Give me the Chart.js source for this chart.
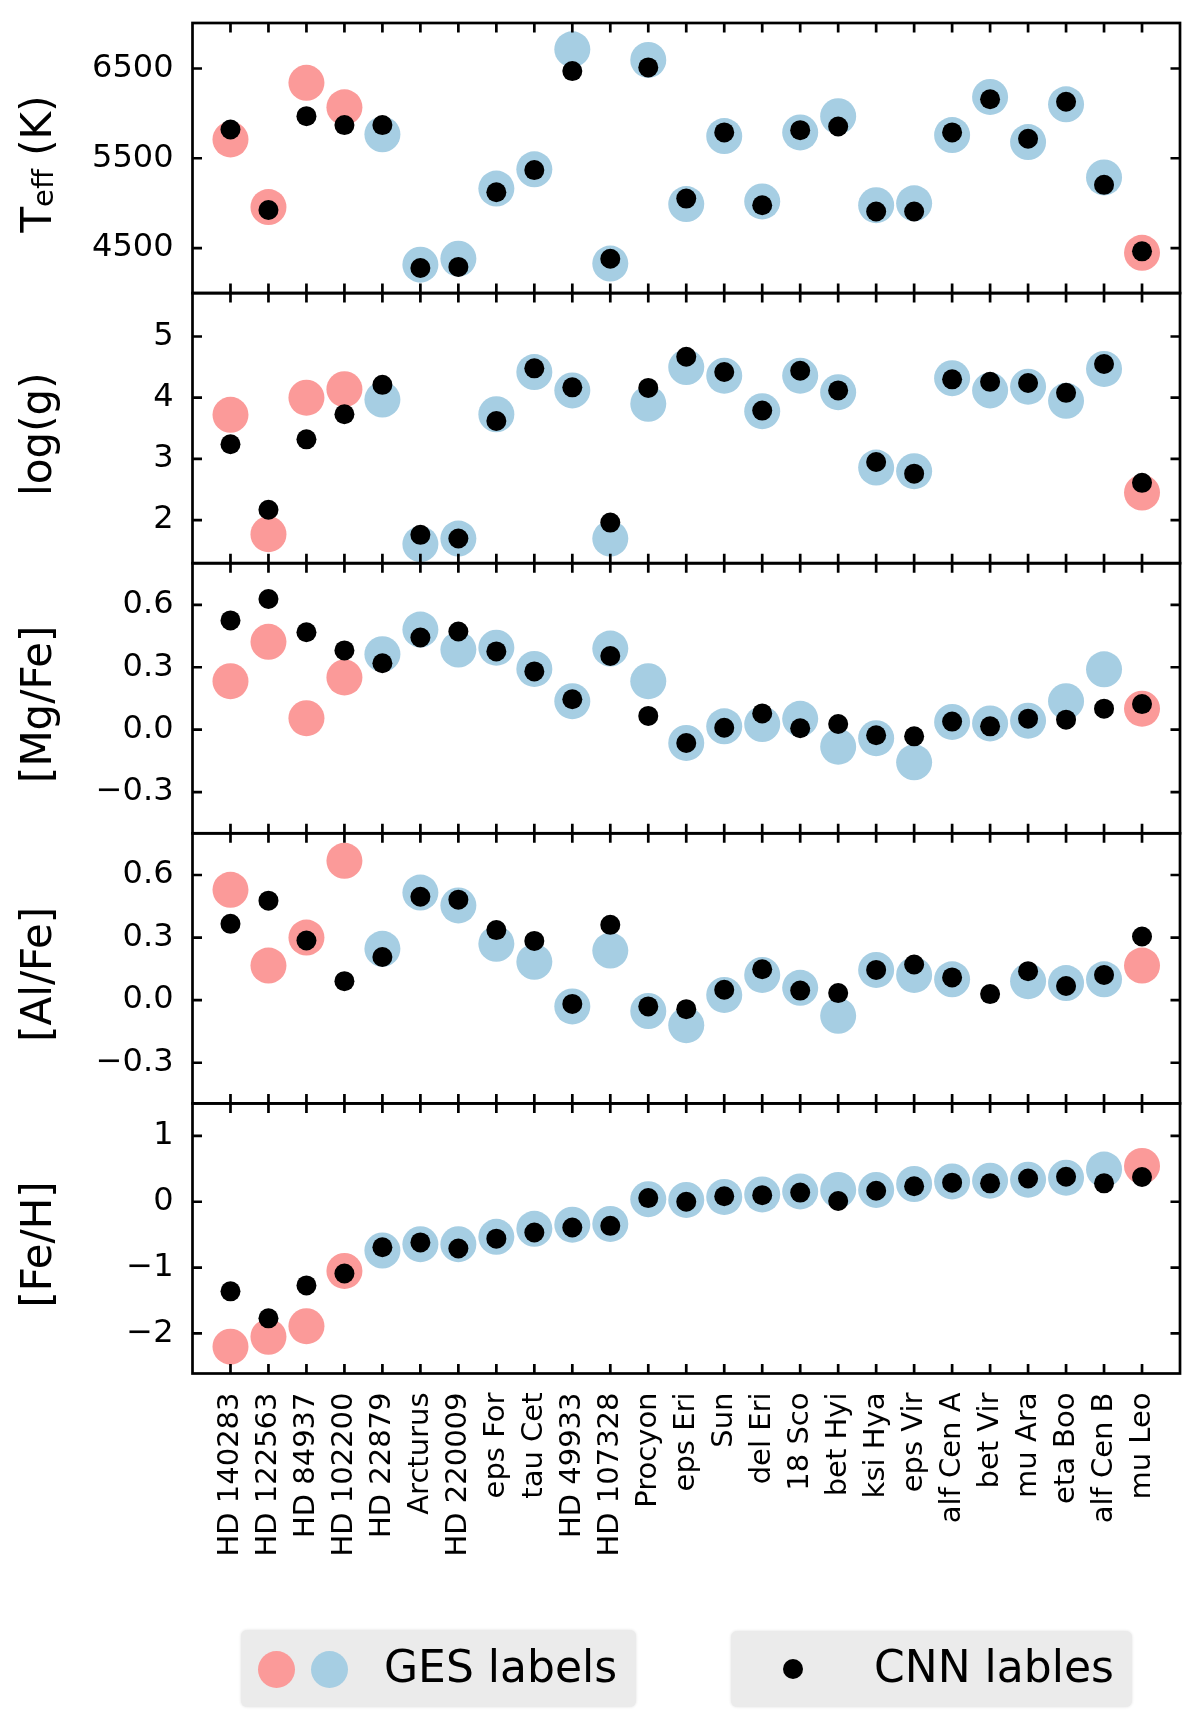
<!DOCTYPE html>
<html>
<head>
<meta charset="utf-8">
<script src="https://cdn.jsdelivr.net/npm/chart.js@4.4.1/dist/chart.umd.min.js"></script>
<style>
  html, body { margin: 0; padding: 0; background: #fff; }
  #wrap { position: relative; width: 1200px; height: 1730px; }
  .legend-box { position: absolute; background: #ebebeb; border-radius: 6px; box-shadow: 0 0 3px rgba(0,0,0,0.12); }
  .legend-box .dot { position: absolute; border-radius: 50%; }
  .legend-box .txt { position: absolute; font-family: "DejaVu Sans"; font-size: 44px; line-height: 44px; white-space: nowrap; color: #000; }
</style>
</head>
<body>
<div id="wrap">
  <canvas id="starsChart" width="1200" height="1730"></canvas>
  <div class="legend-box" style="left:241px; top:1630px; width:395px; height:77px;">
    <span class="dot" style="left:17px; top:21px; width:37px; height:37px; background:#fb9a99;"></span>
    <span class="dot" style="left:70px; top:21px; width:37px; height:37px; background:#a6cee3;"></span>
    <span class="txt" style="left:143px; top:15px;">GES labels</span>
  </div>
  <div class="legend-box" style="left:731px; top:1631px; width:401px; height:76px;">
    <span class="dot" style="left:52px; top:28px; width:20px; height:20px; background:#000;"></span>
    <span class="txt" style="left:143px; top:14px;">CNN lables</span>
  </div>
</div>
<script>
const stars = ['HD 140283', 'HD 122563', 'HD 84937', 'HD 102200', 'HD 22879', 'Arcturus', 'HD 220009',
  'eps For', 'tau Cet', 'HD 49933', 'HD 107328', 'Procyon', 'eps Eri', 'Sun', 'del Eri', '18 Sco',
  'bet Hyi', 'ksi Hya', 'eps Vir', 'alf Cen A', 'bet Vir', 'mu Ara', 'eta Boo', 'alf Cen B', 'mu Leo'];
// stars whose GES labels are drawn in red
const redStars = ['HD 140283', 'HD 122563', 'HD 84937', 'HD 102200', 'mu Leo'];

const teffGes = [5710, 4957, 6340, 6068, 5767, 4315, 4381, 5163, 5377, 6714, 4327, 6595, 4990, 5747, 5019,
  5788, 5969, 4977, 4998, 5759, 6183, 5681, 6101, 5286, 4447];
const teffCnn = [5821, 4924, 5969, 5870, 5870, 4278, 4290, 5121, 5368, 6471, 4381, 6512, 5051, 5788, 4977,
  5813, 5854, 4907, 4907, 5788, 6158, 5718, 6130, 5204, 4463];

const loggGes = [3.72, 1.77, 4.00, 4.14, 3.97, 1.61, 1.70, 3.73, 4.42, 4.12, 1.70, 3.90, 4.50, 4.36, 3.78,
  4.36, 4.09, 2.86, 2.80, 4.32, 4.12, 4.18, 3.95, 4.47, 2.45];
const loggCnn = [3.24, 2.17, 3.32, 3.73, 4.21, 1.76, 1.70, 3.62, 4.48, 4.17, 1.96, 4.16, 4.67, 4.42, 3.79,
  4.44, 4.12, 2.95, 2.76, 4.30, 4.26, 4.24, 4.08, 4.55, 2.61];

const mgGes = [0.233, 0.422, 0.055, 0.251, 0.363, 0.481, 0.385, 0.394, 0.292, 0.137, 0.390, 0.233, -0.064,
  0.016, 0.027, 0.052, -0.082, -0.041, -0.157, 0.037, 0.030, 0.043, 0.137, 0.290, 0.101];
const mgCnn = [0.525, 0.628, 0.468, 0.381, 0.319, 0.443, 0.472, 0.376, 0.280, 0.146, 0.354, 0.066, -0.064,
  0.009, 0.078, 0.007, 0.027, -0.027, -0.032, 0.039, 0.016, 0.053, 0.048, 0.101, 0.123];

const alGes = [0.529, 0.166, 0.300, 0.668, 0.246, 0.516, 0.454, 0.270, 0.184, -0.030, 0.238, -0.052, -0.120,
  0.025, 0.121, 0.059, -0.075, 0.145, 0.121, 0.100, null, 0.091, 0.082, 0.100, 0.166];
const alCnn = [0.366, 0.477, 0.286, 0.091, 0.207, 0.496, 0.482, 0.336, 0.284, -0.018, 0.361, -0.030, -0.043,
  0.050, 0.148, 0.046, 0.034, 0.145, 0.171, 0.109, 0.029, 0.139, 0.068, 0.121, 0.305];

const fehGes = [-2.20, -2.05, -1.89, -1.05, -0.74, -0.645, -0.645, -0.533, -0.41, -0.348, -0.336, 0.04, 0.028,
  0.073, 0.112, 0.157, 0.18, 0.18, 0.27, 0.308, 0.32, 0.336, 0.365, 0.49, 0.544];
const fehCnn = [-1.36, -1.77, -1.27, -1.09, -0.69, -0.617, -0.71, -0.56, -0.466, -0.39, -0.365, 0.056, 0.0,
  0.084, 0.10, 0.14, 0.011, 0.168, 0.236, 0.29, 0.28, 0.353, 0.38, 0.28, 0.376];

const teffTicks = [4500, 5500, 6500];
const loggTicks = [2, 3, 4, 5];
const abundTicks = [-0.3, 0.0, 0.3, 0.6];
const fehTicks = [-2, -1, 0, 1];

const RED = '#fb9a99';
const BLUE = '#a6cee3';
const FONT = 'DejaVu Sans';

const minus = s => s.replace('-', '\u2212');
const fmtInt = v => minus(String(v));
const fmtOne = v => minus(v.toFixed(1));

const panels = [
  { id: 'yTeff', title: null, ges: teffGes, cnn: teffCnn, min: 3998, max: 7007, ticks: teffTicks, fmt: fmtInt },
  { id: 'yLogg', title: 'log(g)', ges: loggGes, cnn: loggCnn, min: 1.297, max: 5.709, ticks: loggTicks, fmt: fmtInt },
  { id: 'yMg', title: '[Mg/Fe]', ges: mgGes, cnn: mgCnn, min: -0.498, max: 0.800, ticks: abundTicks, fmt: fmtOne },
  { id: 'yAl', title: '[Al/Fe]', ges: alGes, cnn: alCnn, min: -0.495, max: 0.800, ticks: abundTicks, fmt: fmtOne },
  { id: 'yFe', title: '[Fe/H]', ges: fehGes, cnn: fehCnn, min: -2.608, max: 1.494, ticks: fehTicks, fmt: fmtInt }
];

const gesColors = stars.map(s => redStars.includes(s) ? RED : BLUE);

const datasets = [];
const scales = {
  x: {
    type: 'linear',
    position: 'bottom',
    min: -1,
    max: 25,
    afterBuildTicks: s => { s.ticks = stars.map((_, i) => ({ value: i })); },
    afterFit: s => { s.height = 356.5; s.paddingLeft = 0; s.paddingRight = 0; },
    grid: { display: false, drawTicks: false },
    border: { display: false },
    ticks: {
      autoSkip: false,
      minRotation: 90,
      maxRotation: 90,
      padding: 19,
      color: '#000',
      font: { family: FONT, size: 29 },
      callback: v => stars[v]
    }
  }
};

panels.forEach((p, k) => {
  datasets.push({
    label: 'CNN lables',
    data: p.cnn.map((v, i) => ({ x: i, y: v })),
    yAxisID: p.id,
    pointRadius: 10,
    pointBackgroundColor: '#000',
    pointBorderWidth: 0,
    order: 0
  });
  datasets.push({
    label: 'GES labels',
    data: p.ges.map((v, i) => ({ x: i, y: v })),
    yAxisID: p.id,
    pointRadius: 18,
    pointBackgroundColor: gesColors,
    pointBorderWidth: 0,
    order: 1
  });
  scales[p.id] = {
    type: 'linear',
    position: 'left',
    stack: 'panels',
    stackWeight: 1,
    weight: panels.length - k,
    min: p.min,
    max: p.max,
    afterBuildTicks: s => { s.ticks = p.ticks.map(v => ({ value: v })); },
    afterFit: s => { s.width = 192.5; s.paddingTop = 0; s.paddingBottom = 0; },
    grid: { display: false, drawTicks: false },
    border: { display: false },
    ticks: {
      padding: 19,
      color: '#000',
      font: { family: FONT, size: 32 },
      callback: v => p.fmt(v)
    }
  };
});

// box round every panel, inward ticks on all four sides, and the rotated axis titles
const framePlugin = {
  id: 'frame',
  afterDatasetsDraw(chart) {
    const ctx = chart.ctx;
    const area = chart.chartArea;
    const xs = chart.scales.x;
    const tl = 9.5;
    ctx.save();
    ctx.strokeStyle = '#000';
    ctx.lineWidth = 2.7;
    panels.forEach(p => {
      const s = chart.scales[p.id];
      const top = s.top, bottom = s.bottom;
      ctx.strokeRect(area.left, top, area.right - area.left, bottom - top);
      ctx.beginPath();
      stars.forEach((_, i) => {
        const px = xs.getPixelForValue(i);
        ctx.moveTo(px, top); ctx.lineTo(px, top + tl);
        ctx.moveTo(px, bottom); ctx.lineTo(px, bottom - tl);
      });
      p.ticks.forEach(v => {
        const py = s.getPixelForValue(v);
        ctx.moveTo(area.left, py); ctx.lineTo(area.left + tl, py);
        ctx.moveTo(area.right, py); ctx.lineTo(area.right - tl, py);
      });
      ctx.stroke();
    });

    ctx.fillStyle = '#000';
    ctx.textBaseline = 'alphabetic';
    panels.forEach(p => {
      const s = chart.scales[p.id];
      const cy = (s.top + s.bottom) / 2 + 6;
      ctx.save();
      ctx.translate(51, cy);
      ctx.rotate(-Math.PI / 2);
      ctx.textAlign = 'left';
      if (p.title) {
        ctx.font = '42px "' + FONT + '"';
        const w = ctx.measureText(p.title).width;
        ctx.fillText(p.title, -w / 2, 0);
      } else {
        ctx.font = '42px "' + FONT + '"';
        const wT = ctx.measureText('T').width;
        const wR = ctx.measureText(' (K)').width;
        ctx.font = '29px "' + FONT + '"';
        const wS = ctx.measureText('eff').width;
        let x = -(wT + wS + wR) / 2;
        ctx.font = '42px "' + FONT + '"';
        ctx.fillText('T', x, 0);
        x += wT;
        ctx.font = '29px "' + FONT + '"';
        ctx.fillText('eff', x, 2);
        x += wS;
        ctx.font = '42px "' + FONT + '"';
        ctx.fillText(' (K)', x, 0);
      }
      ctx.restore();
    });
    ctx.restore();
  }
};

new Chart(document.getElementById('starsChart'), {
  type: 'scatter',
  data: { datasets: datasets },
  options: {
    responsive: false,
    animation: false,
    events: [],
    layout: { padding: { top: 23, right: 20, left: 0, bottom: 0 } },
    plugins: {
      legend: { display: false },
      tooltip: { enabled: false }
    },
    scales: scales
  },
  plugins: [framePlugin]
});
</script>
</body>
</html>
